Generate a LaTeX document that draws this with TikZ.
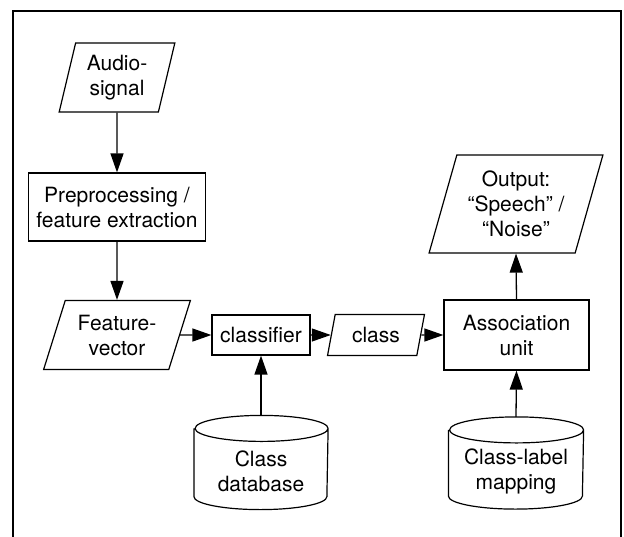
\documentclass[tikz,border=0pt]{standalone}
\usepackage{fontspec}
\setmainfont{TeX Gyre Heros}
\usetikzlibrary{shapes.geometric,arrows.meta}
\begin{document}
\begin{tikzpicture}[x=1pt,y=1pt,
  every node/.style={font=\fontsize{21}{25}\selectfont, align=center, inner sep=0pt, line width=1.2pt},
  box/.style={draw, rectangle},
  io/.style={draw, trapezium, trapezium stretches=true},
  dbshape/.style={rectangle},
  conn/.style={line width=1.3pt, -{Triangle[length=19pt,width=13pt]}}
]
\useasboundingbox (0,0) rectangle (624,-536);
\draw[line width=1.6pt] (13,-545) -- (13,-11) -- (621,-11) -- (621,-545);

\node[io, trapezium left angle=75, trapezium right angle=105, minimum width=116pt, minimum height=69pt] (as) at (117,-77.5) {Audio-\\signal};
\node[box, minimum width=177pt, minimum height=68pt] (pp) at (117,-207) {Preprocessing /\\feature extraction};
\node[io, trapezium left angle=68, trapezium right angle=112, minimum width=147pt, minimum height=69pt] (fv) at (117,-335) {Feature-\\vector};
\node[box, minimum width=98pt, minimum height=40pt] (cl) at (261,-335) {classifier};
\node[io, trapezium left angle=74, trapezium right angle=106, minimum width=97pt, minimum height=41pt] (cls) at (376,-335) {class};
\node[box, minimum width=145pt, minimum height=70pt] (au) at (516.5,-335) {Association\\unit};
\node[io, trapezium left angle=71, trapezium right angle=109, minimum width=174pt, minimum height=98pt] (out) at (516,-204) {Output:\\“Speech” /\\“Noise”};

\node[dbshape, minimum width=133pt, minimum height=93pt] (cd) at (261,-462.5) {};
\draw[line width=1.2pt] ([yshift=-13pt]cd.north west) -- ([yshift=13pt]cd.south west)
  arc[start angle=180, end angle=360, x radius=66.5pt, y radius=13pt]
  -- ([yshift=-13pt]cd.north east)
  arc[start angle=0, end angle=180, x radius=66.5pt, y radius=13pt]
  arc[start angle=180, end angle=360, x radius=66.5pt, y radius=13pt];
\node (cdt) at (261,-471) {Class\\database};

\node[dbshape, minimum width=134pt, minimum height=91pt] (cm) at (516,-463) {};
\draw[line width=1.2pt] ([yshift=-13pt]cm.north west) -- ([yshift=13pt]cm.south west)
  arc[start angle=180, end angle=360, x radius=67pt, y radius=13pt]
  -- ([yshift=-13pt]cm.north east)
  arc[start angle=0, end angle=180, x radius=67pt, y radius=13pt]
  arc[start angle=180, end angle=360, x radius=67pt, y radius=13pt];
\node (cmt) at (516,-471) {Class-label\\mapping};

\draw[conn] (as.south) -- (pp.north);
\draw[conn] (pp.south) -- (fv.north);
\draw[conn] (fv.east) -- (cl.west);
\draw[conn] (cl.east) -- (cls.west);
\draw[conn] (cls.east) -- (au.west);
\draw[conn] (au.north) -- (out.south);
\draw[conn] (cd.north) -- (cl.south);
\draw[conn] (cm.north) -- (au.south);
\end{tikzpicture}
\end{document}
